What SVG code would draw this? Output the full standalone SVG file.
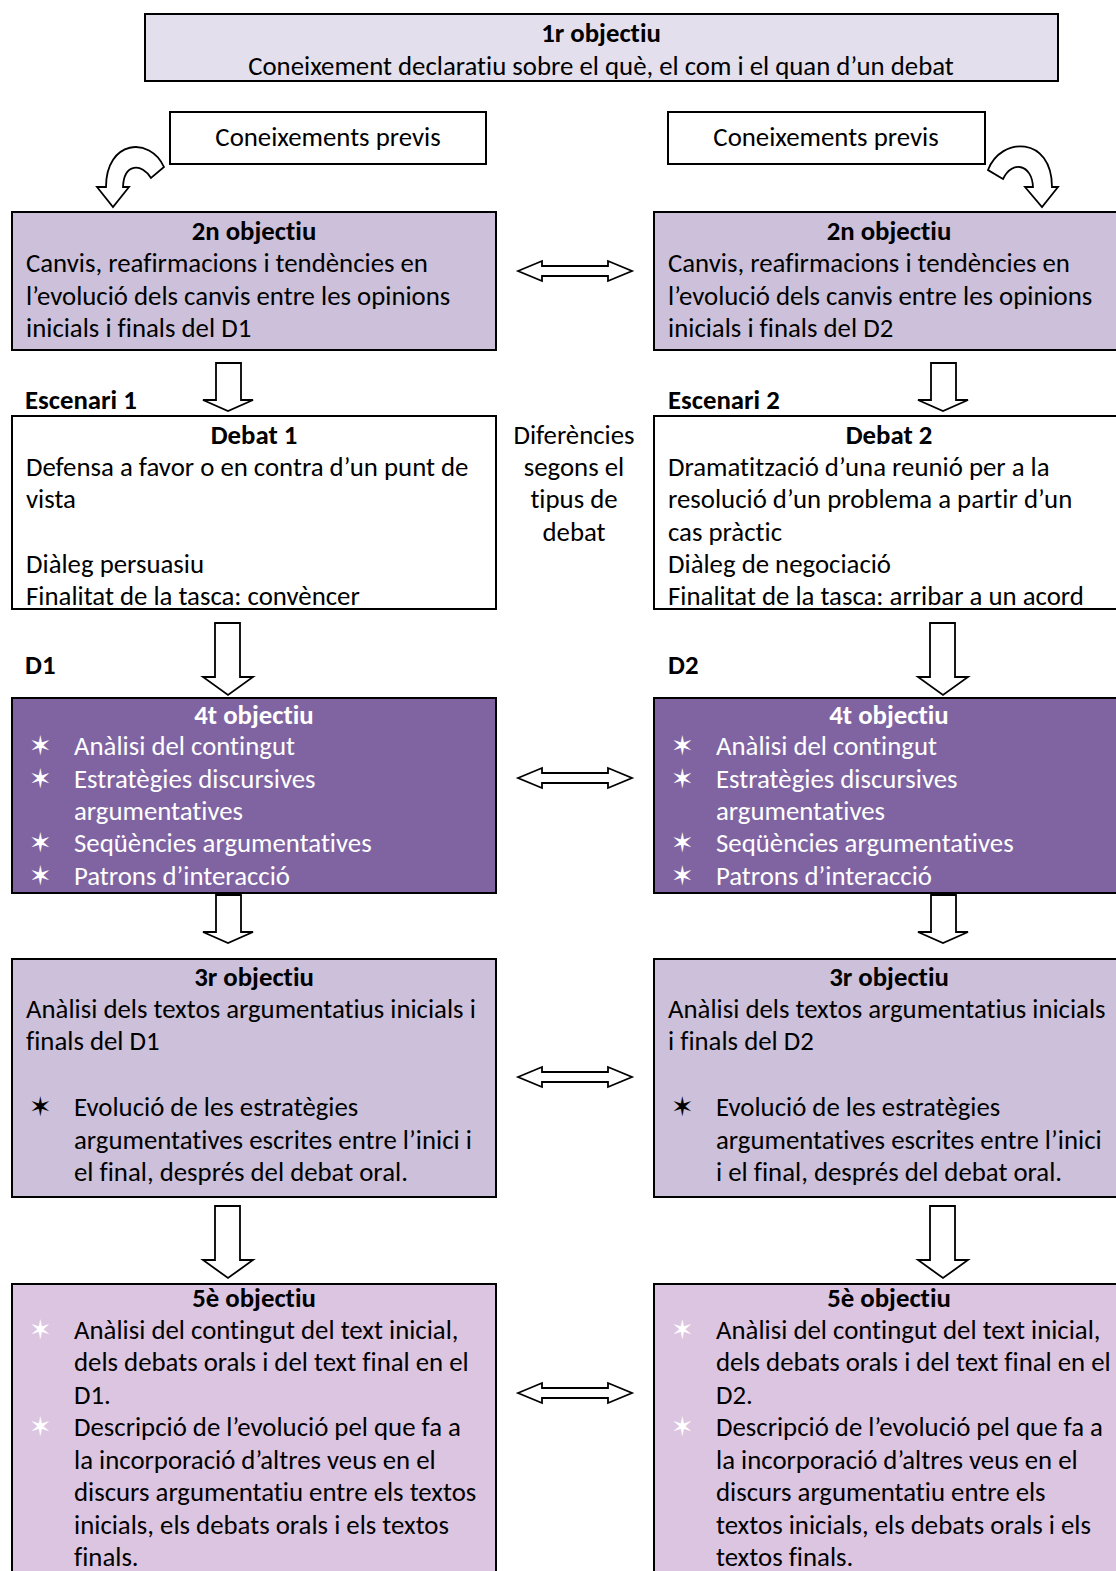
<svg xmlns="http://www.w3.org/2000/svg" width="1116" height="1571" viewBox="0 0 1116 1571">
<style>
text{font-family:"Carlito","Lato","Liberation Sans",sans-serif;font-size:26.8px;fill:#000;font-variant-ligatures:none}
.b{font-weight:bold}
.c{text-anchor:middle}
.w{fill:#fff}
.star{font-family:"DejaVu Sans",sans-serif;font-size:27px}
.box{stroke:#000;stroke-width:2}
.arr{fill:#fff;stroke:#000;stroke-width:1.8;stroke-linejoin:miter}
</style>
<defs>
<path id="down1" d="M-12,0 H13 V37 H25 L0,48 L-25,37 H-12 Z"/>
<path id="down2" d="M-13,0 H12 V54 H25 L0,72 L-25,54 H-13 Z"/>
<path id="dbl" d="M-57,0 L-33,-10 V-5 H33 V-10 L57,0 L33,10 V5 H-33 V10 Z"/>
</defs>
<rect width="1116" height="1571" fill="#fff"/>

<g id="obj1">
<rect class="box" x="145" y="14" width="913" height="67" fill="#e4dfec"/>
<text class="b c" x="601" y="42">1r objectiu</text>
<text class="c" x="601" y="75">Coneixement declaratiu sobre el què, el com i el quan d’un debat</text>
</g>

<g id="previs1">
<rect class="box" x="170" y="112" width="316" height="52" fill="#fff"/>
<text class="c" x="328" y="146">Coneixements previs</text>
</g>
<g id="previs2">
<rect class="box" x="668" y="112" width="317" height="52" fill="#fff"/>
<text class="c" x="826" y="146">Coneixements previs</text>
</g>

<g id="obj2-left">
<rect class="box" x="12" y="212" width="484" height="138" fill="#ccc0da"/>
<text class="b c" x="254" y="240">2n objectiu</text>
<text x="26" y="272">Canvis, reafirmacions i tendències en</text>
<text x="26" y="305">l’evolució dels canvis entre les opinions</text>
<text x="26" y="337">inicials i finals del D1</text>
</g>
<g id="obj2-right">
<rect class="box" x="654" y="212" width="470" height="138" fill="#ccc0da"/>
<text class="b c" x="889" y="240">2n objectiu</text>
<text x="668" y="272">Canvis, reafirmacions i tendències en</text>
<text x="668" y="305">l’evolució dels canvis entre les opinions</text>
<text x="668" y="337">inicials i finals del D2</text>
</g>

<g id="labels">
<text class="b" x="25" y="409">Escenari 1</text>
<text class="b" x="668" y="409">Escenari 2</text>
<text class="b" x="25" y="674">D1</text>
<text class="b" x="668" y="674">D2</text>
</g>

<g id="debat1">
<rect class="box" x="12" y="416" width="484" height="193" fill="#fff"/>
<text class="b c" x="254" y="444">Debat 1</text>
<text x="26" y="476">Defensa a favor o en contra d’un punt de</text>
<text x="26" y="508">vista</text>
<text x="26" y="573">Diàleg persuasiu</text>
<text x="26" y="605">Finalitat de la tasca: convèncer</text>
</g>
<g id="diferencies">
<text class="c" x="574" y="444">Diferències</text>
<text class="c" x="574" y="476">segons el</text>
<text class="c" x="574" y="508">tipus de</text>
<text class="c" x="574" y="541">debat</text>
</g>
<g id="debat2">
<rect class="box" x="654" y="416" width="470" height="193" fill="#fff"/>
<text class="b c" x="889" y="444">Debat 2</text>
<text x="668" y="476">Dramatització d’una reunió per a la</text>
<text x="668" y="508">resolució d’un problema a partir d’un</text>
<text x="668" y="541">cas pràctic</text>
<text x="668" y="573">Diàleg de negociació</text>
<text x="668" y="605">Finalitat de la tasca: arribar a un acord</text>
</g>

<g id="obj4-left">
<rect class="box" x="12" y="698" width="484" height="195" fill="#8064a2"/>
<text class="b c w" x="254" y="724">4t objectiu</text>
<text class="star w" x="29" y="755">✶</text>
<text class="w" x="74" y="755"> Anàlisi del contingut</text>
<text class="star w" x="29" y="788">✶</text>
<text class="w" x="74" y="788">Estratègies discursives</text>
<text class="w" x="74" y="820">argumentatives</text>
<text class="star w" x="29" y="852">✶</text>
<text class="w" x="74" y="852">Seqüències argumentatives</text>
<text class="star w" x="29" y="885">✶</text>
<text class="w" x="74" y="885">Patrons d’interacció</text>
</g>
<g id="obj4-right">
<rect class="box" x="654" y="698" width="470" height="195" fill="#8064a2"/>
<text class="b c w" x="889" y="724">4t objectiu</text>
<text class="star w" x="671" y="755">✶</text>
<text class="w" x="716" y="755">Anàlisi del contingut</text>
<text class="star w" x="671" y="788">✶</text>
<text class="w" x="716" y="788">Estratègies discursives</text>
<text class="w" x="716" y="820">argumentatives</text>
<text class="star w" x="671" y="852">✶</text>
<text class="w" x="716" y="852">Seqüències argumentatives</text>
<text class="star w" x="671" y="885">✶</text>
<text class="w" x="716" y="885">Patrons d’interacció</text>
</g>

<g id="obj3-left">
<rect class="box" x="12" y="959" width="484" height="238" fill="#ccc0da"/>
<text class="b c" x="254" y="986">3r objectiu</text>
<text x="26" y="1018">Anàlisi dels textos argumentatius inicials i</text>
<text x="26" y="1050">finals del D1</text>
<text class="star" x="29" y="1116">✶</text>
<text x="74" y="1116">Evolució de les estratègies</text>
<text x="74" y="1149">argumentatives escrites entre l’inici i</text>
<text x="74" y="1181">el final, després del debat oral.</text>
</g>
<g id="obj3-right">
<rect class="box" x="654" y="959" width="470" height="238" fill="#ccc0da"/>
<text class="b c" x="889" y="986">3r objectiu</text>
<text x="668" y="1018">Anàlisi dels textos argumentatius inicials</text>
<text x="668" y="1050">i finals del D2</text>
<text class="star" x="671" y="1116">✶</text>
<text x="716" y="1116">Evolució de les estratègies</text>
<text x="716" y="1149">argumentatives escrites entre l’inici</text>
<text x="716" y="1181">i el final, després del debat oral.</text>
</g>

<g id="obj5-left">
<rect class="box" x="12" y="1284" width="484" height="300" fill="#dcc5e1"/>
<text class="b c" x="254" y="1307">5è objectiu</text>
<text class="star w" x="29" y="1339">✶</text>
<text x="74" y="1339">Anàlisi del contingut del text inicial,</text>
<text x="74" y="1371">dels debats orals i del text final en el</text>
<text x="74" y="1404">D1.</text>
<text class="star w" x="29" y="1436">✶</text>
<text x="74" y="1436">Descripció de l’evolució pel que fa a</text>
<text x="74" y="1469">la incorporació d’altres veus en el</text>
<text x="74" y="1501">discurs argumentatiu entre els textos</text>
<text x="74" y="1534">inicials, els debats orals i els textos</text>
<text x="74" y="1566">finals.</text>
</g>
<g id="obj5-right">
<rect class="box" x="654" y="1284" width="470" height="300" fill="#dcc5e1"/>
<text class="b c" x="889" y="1307">5è objectiu</text>
<text class="star w" x="671" y="1339">✶</text>
<text x="716" y="1339">Anàlisi del contingut del text inicial,</text>
<text x="716" y="1371">dels debats orals i del text final en el</text>
<text x="716" y="1404">D2.</text>
<text class="star w" x="671" y="1436">✶</text>
<text x="716" y="1436">Descripció de l’evolució pel que fa a</text>
<text x="716" y="1469">la incorporació d’altres veus en el</text>
<text x="716" y="1501">discurs argumentatiu entre els</text>
<text x="716" y="1534">textos inicials, els debats orals i els</text>
<text x="716" y="1566">textos finals.</text>
</g>

<g id="connectors">
<path class="arr" d="M164,167 C150,136 106,140 106,187 L97,187 L113,207 L129,187 L123,187 C124,163 142,163 151,178 Z"/>
<path class="arr" d="M988,170 C1001,136 1052,136 1052,187 L1058,187 L1042,207 L1025,187 L1033,187 C1032,164 1012,160 1003,179 Z"/>
<use href="#dbl" class="arr" x="575" y="271"/>
<use href="#dbl" class="arr" x="575" y="778"/>
<use href="#dbl" class="arr" x="575" y="1077"/>
<use href="#dbl" class="arr" x="575" y="1393"/>
<use href="#down1" class="arr" x="228" y="363"/>
<use href="#down1" class="arr" x="943" y="363"/>
<use href="#down2" class="arr" x="228" y="623"/>
<use href="#down2" class="arr" x="943" y="623"/>
<use href="#down1" class="arr" x="228" y="895"/>
<use href="#down1" class="arr" x="943" y="895"/>
<use href="#down2" class="arr" x="228" y="1206"/>
<use href="#down2" class="arr" x="943" y="1206"/>
</g>
</svg>
